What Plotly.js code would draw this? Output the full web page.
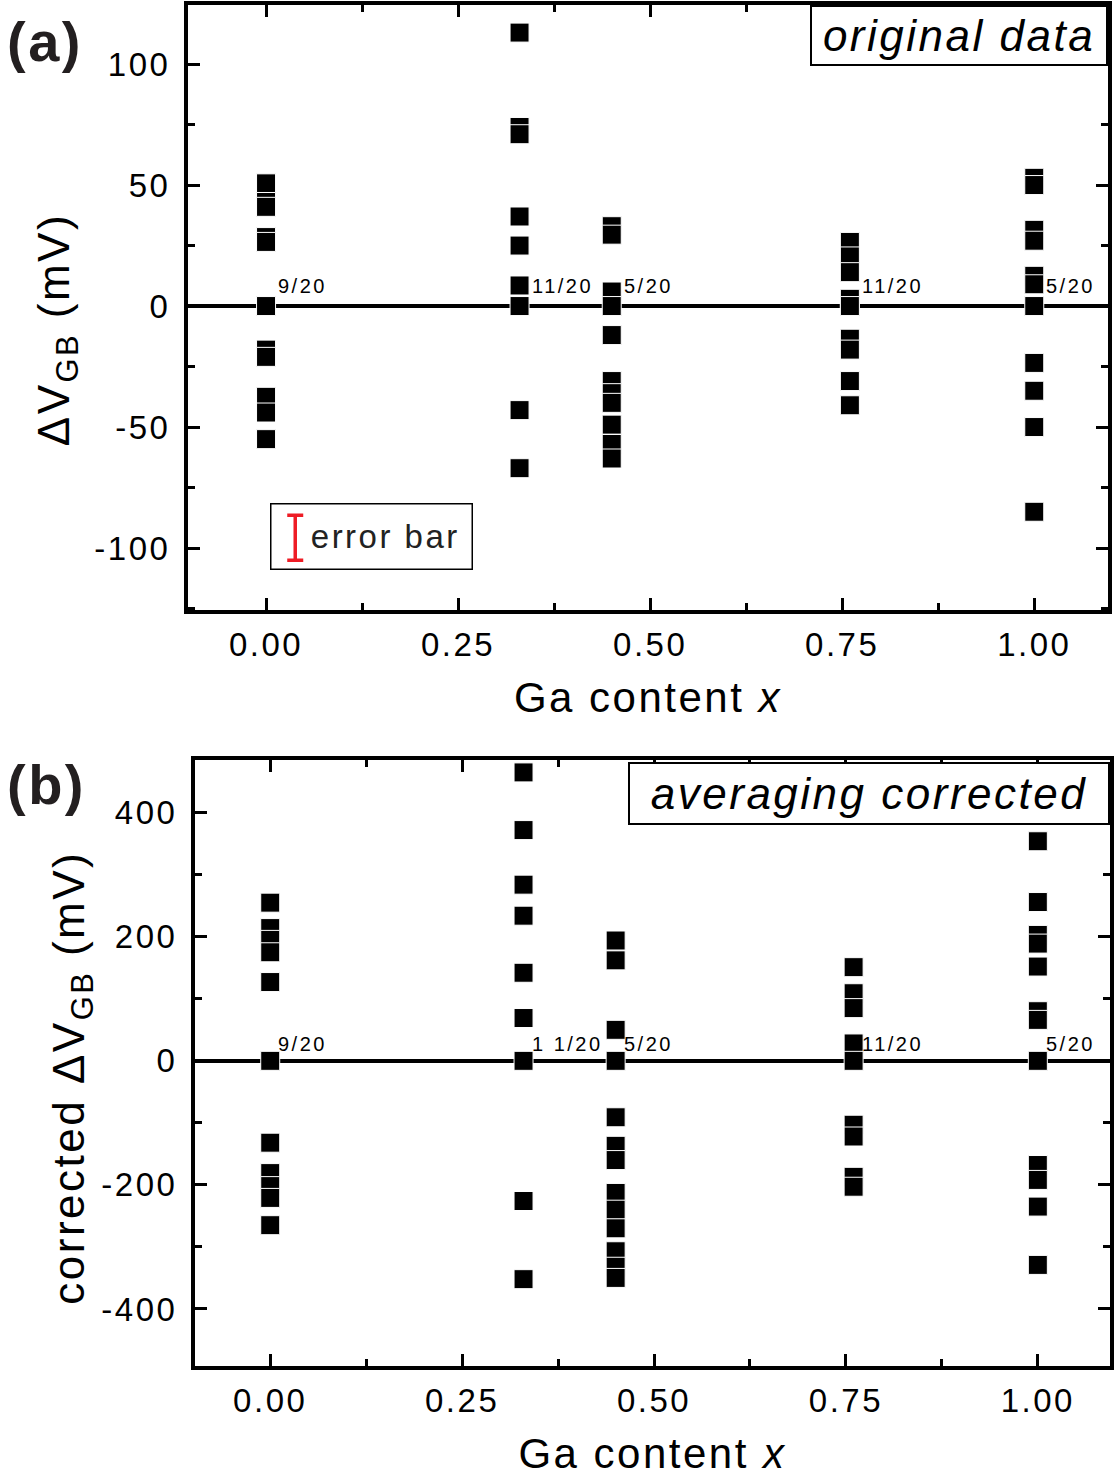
<!DOCTYPE html>
<html><head><meta charset="utf-8">
<script src="https://cdn.plot.ly/plotly-3.0.1.min.js"></script>
<style>html,body{margin:0;padding:0;background:#fff} svg text{letter-spacing:2.5px}</style>
</head><body><div id="chart" style="width:1116px;height:1484px"></div>
<script>
// Ga content of the five sample groups
const gaContent = [0, 0.33, 0.45, 0.76, 1.0];
const fractionLabels = ['9/20', '11/20', '5/20', '11/20', '5/20'];
const fractionLabelsB = ['9/20', '1 1/20', '5/20', '11/20', '5/20'];

// tick labels (hyphen minus as in the original)
const xTickVals = [0, 0.25, 0.5, 0.75, 1.0];
const xTickText = ['0.00', '0.25', '0.50', '0.75', '1.00'];
const yTickValsA = [-100, -50, 0, 50, 100];
const yTickTextA = ['-100', '-50', '0', '50', '100'];
const yTickValsB = [-400, -200, 0, 200, 400];
const yTickTextB = ['-400', '-200', '0', '200', '400'];

// (a) original data, ΔV_GB in mV
const origX000 = [50.7, 43, 41, 28.5, 26.5, 0, -18, -21, -37.5, -44, -55];
const origX033 = [113, 74, 71, 37, 25, 8.5, 0, -43, -67];
const origX045 = [33, 29.5, 6, 0, -12, -31, -36, -40, -49, -57, -63];
const origX076 = [26.5, 20.5, 14, 3, 0, -13.5, -18, -31, -41];
const origX100 = [53, 50, 31.5, 27, 12.5, 9, 0, -23.5, -35, -50, -85];

// (b) averaging corrected ΔV_GB in mV
const corrX000 = [255, 214, 195, 175, 127, 0, -132, -181, -202, -221, -265];
const corrX033 = [465, 372, 284, 234, 142, 69, 0, -226, -352];
const corrX045 = [194, 162, 50, 0, -91, -137, -160, -213, -240, -270, -307, -332, -350];
const corrX076 = [151, 109, 85, 28, 0, -103, -122, -187, -203];
const corrX100 = [354, 256, 203, 189, 152, 80, 66, 0, -168, -192, -235, -329];

// error bar legend sample (mV)
const errorBarX = 0.038;
const errorBarY = -95.7;
const errorBarHalf = 9.3;

const origGroups = [origX000, origX033, origX045, origX076, origX100];
const corrGroups = [corrX000, corrX033, corrX045, corrX076, corrX100];

function flatten(groups) {
  const xs = [], ys = [];
  groups.forEach((g, i) => g.forEach(v => { xs.push(gaContent[i]); ys.push(v); }));
  return {xs, ys};
}
const A = flatten(origGroups), B = flatten(corrGroups);

const W = 1116, H = 1484;
const px = v => v / W, py = v => 1 - v / H;
const FONT = 'Liberation Sans, Arial, Helvetica, sans-serif';

const markerStyle = {symbol: 'square', size: 19, color: 'black', line: {color: 'white', width: 1}};

const traces = [
  {type: 'scatter', mode: 'markers', x: A.xs, y: A.ys, xaxis: 'x', yaxis: 'y', marker: markerStyle, hoverinfo: 'x+y'},
  {type: 'scatter', mode: 'markers', x: B.xs, y: B.ys, xaxis: 'x2', yaxis: 'y2', marker: markerStyle, hoverinfo: 'x+y'},
  {type: 'scatter', mode: 'markers', x: [errorBarX], y: [errorBarY], xaxis: 'x', yaxis: 'y',
   marker: {size: 1, color: 'rgba(0,0,0,0)'},
   error_y: {type: 'constant', value: errorBarHalf, color: '#ee1c25', thickness: 3.5, width: 8}, hoverinfo: 'skip'}
];

const axisCommon = {
  showline: true, linewidth: 4, linecolor: 'black', mirror: 'allticks',
  ticks: 'inside', ticklen: 12, tickwidth: 3, tickcolor: 'black',
  showgrid: false, zeroline: false,
  tickfont: {family: FONT, size: 33, color: 'black'}
};

function xAxis(domain, range, anchor) {
  return Object.assign({}, axisCommon, {
    domain, range, anchor, tickmode: 'array', tickvals: xTickVals, ticktext: xTickText,
    ticklabelstandoff: 2,
    minor: {tick0: 0, dtick: 0.125, ticks: 'inside', ticklen: 7, tickwidth: 3, tickcolor: 'black'},
    title: {text: 'Ga content <i>x</i>', font: {family: FONT, size: 42, color: 'black'}, standoff: 22}
  });
}
function yAxis(domain, range, anchor, vals, text, dtick, title, standoff) {
  return Object.assign({}, axisCommon, {
    domain, range, anchor, tickmode: 'array', tickvals: vals, ticktext: text,
    ticklabelstandoff: 7,
    zeroline: true, zerolinecolor: 'black', zerolinewidth: 3.5,
    minor: {tick0: 0, dtick: dtick / 2, ticks: 'inside', ticklen: 7, tickwidth: 3, tickcolor: 'black'},
    title: {text: title, font: {family: FONT, size: 44, color: 'black'}, standoff}
  });
}

const annotations = [];
gaContent.forEach((g, i) => {
  annotations.push({xref: 'x', yref: 'y', x: g, y: 0, text: fractionLabels[i], showarrow: false,
    xanchor: 'left', yanchor: 'bottom', xshift: 10, yshift: 7, font: {family: FONT, size: 20, color: 'black'}});
  annotations.push({xref: 'x2', yref: 'y2', x: g, y: 0, text: fractionLabelsB[i], showarrow: false,
    xanchor: 'left', yanchor: 'bottom', xshift: 6, yshift: 4, font: {family: FONT, size: 20, color: 'black'}});
});
annotations.push(
  {xref: 'paper', yref: 'paper', x: px(1108), y: py(5), xanchor: 'right', yanchor: 'top',
   text: '<i>original data</i>', showarrow: false, width: 294, height: 57, borderpad: 0,
   bordercolor: 'black', borderwidth: 2, bgcolor: 'white', align: 'center',
   font: {family: FONT, size: 44, color: 'black'}},
  {xref: 'paper', yref: 'paper', x: px(1110), y: py(762), xanchor: 'right', yanchor: 'top',
   text: '<i>averaging corrected</i>', showarrow: false, width: 478, height: 59, borderpad: 0,
   bordercolor: 'black', borderwidth: 2, bgcolor: 'white', align: 'center',
   font: {family: FONT, size: 44, color: 'black'}},
  {xref: 'paper', yref: 'paper', x: px(270), y: py(503), xanchor: 'left', yanchor: 'top',
   text: 'error bar&nbsp;', showarrow: false, width: 200, height: 64, borderpad: 0,
   bordercolor: 'black', borderwidth: 1.5, bgcolor: 'rgba(0,0,0,0)', align: 'right',
   font: {family: FONT, size: 33, color: '#222'}},
  {xref: 'paper', yref: 'paper', x: px(5), y: py(42), xanchor: 'left', yanchor: 'middle',
   text: '<b>(a)</b>', showarrow: false, font: {family: FONT, size: 56, color: '#231f20'}},
  {xref: 'paper', yref: 'paper', x: px(5), y: py(784), xanchor: 'left', yanchor: 'middle',
   text: '<b>(b)</b>', showarrow: false, font: {family: FONT, size: 56, color: '#231f20'}}
);

const layout = {
  width: W, height: H, margin: {l: 0, r: 0, t: 0, b: 0},
  paper_bgcolor: 'white', plot_bgcolor: 'white', showlegend: false,
  font: {family: FONT, color: 'black'},
  xaxis: xAxis([px(188), px(1108)], [-0.1016, 1.096], 'y'),
  yaxis: yAxis([py(610), py(5)], [-125.6, 124.4], 'x', yTickValsA, yTickTextA, 50,
               'ΔV<sub>GB</sub> (mV)&nbsp;&nbsp;&nbsp;', 12),
  xaxis2: xAxis([px(195), px(1110)], [-0.098, 1.094], 'y2'),
  yaxis2: yAxis([py(1366), py(760)], [-492, 485], 'x2', yTickValsB, yTickTextB, 200,
                'corrected ΔV<sub>GB</sub> (mV)&nbsp;&nbsp;', 4),
  annotations
};

Plotly.newPlot('chart', traces, layout, {displayModeBar: false, staticPlot: true});
</script></body></html>
